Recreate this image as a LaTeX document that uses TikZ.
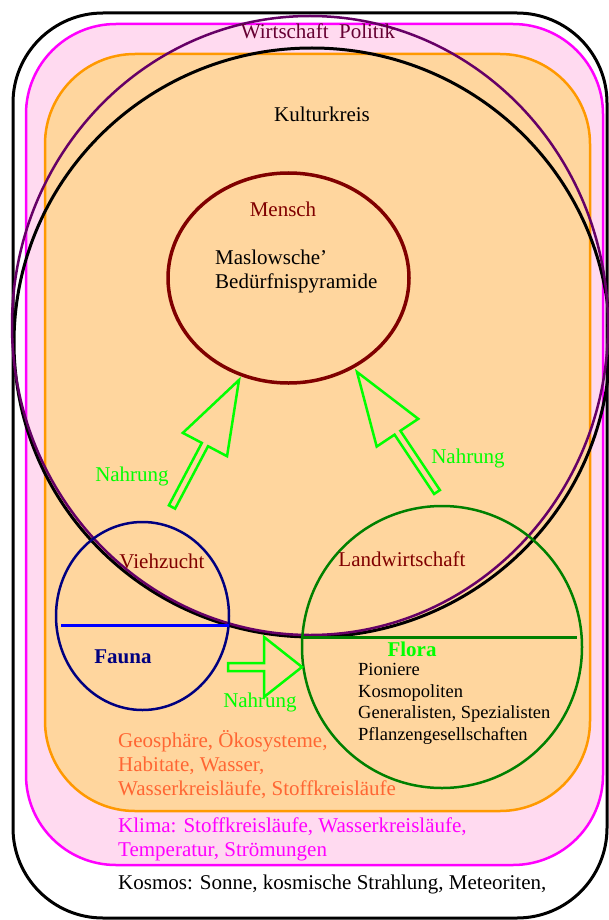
\documentclass[tikz,border=0pt]{standalone}
\usepackage{fontspec}
\setmainfont{Liberation Serif}
\usetikzlibrary{shapes.geometric, calc}

\definecolor{wipocol}{RGB}{102,0,51}
\definecolor{lila}{RGB}{102,0,102}
\definecolor{maroon}{RGB}{128,0,0}
\definecolor{navy}{RGB}{0,0,128}
\definecolor{gruen}{RGB}{0,128,0}
\definecolor{hellgruen}{RGB}{0,255,0}
\definecolor{orangetext}{RGB}{255,102,51}
\definecolor{orangeline}{RGB}{255,153,0}
\definecolor{orangefill}{RGB}{255,214,158}
\definecolor{pinkfill}{RGB}{255,218,240}
\definecolor{rosa}{RGB}{255,0,255}

\newcommand{\blockpfeil}[5]{%
  \coordinate (hb) at ($(#2)!#3!(#1)$);
  \draw[food] ($(#1)!#5!90:(#2)$) -- ($(hb)!#5!90:(#2)$) -- ($(hb)!#4!90:(#2)$) -- (#2)
    -- ($(hb)!#4!-90:(#2)$) -- ($(hb)!#5!-90:(#2)$) -- ($(#1)!#5!-90:(#2)$) -- cycle;}

\begin{document}
\begin{tikzpicture}[x=1pt,y=-1pt]
\tikzstyle{every node}=[inner sep=0pt, font=\fontsize{21}{24}\selectfont]
\tikzstyle{zone}=[rounded corners=90pt, line width=2.5pt]
\tikzstyle{ring}=[draw, ellipse, line width=2.5pt]
\tikzstyle{food}=[draw=hellgruen, line width=2.5pt, miter limit=20]
\tikzstyle{txt}=[anchor=base west, align=left]

\useasboundingbox (0,0) rectangle (608,920);
\draw[zone, line width=3pt] (13,13) rectangle (607,918);
\draw[zone, draw=rosa, fill=pinkfill] (26,24) rectangle (603,865);
\draw[zone, draw=orangeline, fill=orangefill] (45,54) rectangle (590,811);

\node[ring, line width=3pt, minimum width=596pt, minimum height=589pt] (kultur) at (312,342.5) {};
\node[ring, draw=lila, minimum width=596pt, minimum height=619pt] (politik) at (310,325.5) {};
\node[ring, draw=maroon, line width=3.5pt, minimum width=241pt, minimum height=210pt] (mensch) at (288.5,278) {};
\node[ring, draw=navy, minimum width=173pt, minimum height=188pt] (vieh) at (142.5,616) {};
\node[ring, draw=gruen, minimum width=280pt, minimum height=282pt] (land) at (442,647) {};

\draw[blue, line width=3pt] (61,625) -- (229,625);
\draw[gruen, line width=3pt] (302,637) -- (577,637);

\coordinate (t1) at (172,507);
\coordinate (p1) at (239,380);
\coordinate (t2) at (437,492);
\coordinate (p2) at (357,372);
\coordinate (t3) at (228,667);
\coordinate (p3) at (302,667);
\blockpfeil{t1}{p1}{73pt}{25pt}{3.5pt}
\blockpfeil{t2}{p2}{73pt}{25pt}{3.5pt}
\blockpfeil{t3}{p3}{38pt}{30pt}{4pt}

\node[anchor=base, text=wipocol] (wipotxt) at (318,39) {Wirtschaft\ \ Politik};
\node[anchor=base] (kulturtxt) at (322,121.5) {Kulturkreis};
\node[anchor=base, text=maroon] (menschtxt) at (283,216.5) {Mensch};
\node[txt] (maslow) at (215,288.5) {Maslowsche’\\Bedürfnispyramide};
\node[anchor=base, text=maroon] (viehtxt) at (162,568.5) {Viehzucht};
\node[anchor=base, text=navy, font=\fontsize{21}{24}\selectfont\bfseries] (fauna) at (123,663.5) {Fauna};
\node[anchor=base, text=maroon] (landtxt) at (402,566.5) {Landwirtschaft};
\node[anchor=base, text=hellgruen, font=\fontsize{21}{24}\selectfont\bfseries] (flora) at (412,656.5) {Flora};
\node[txt, font=\fontsize{18.5}{21.7}\selectfont] (arten) at (358,740.6) {Pioniere\\Kosmopoliten\\Generalisten, Spezialisten\\Pflanzengesellschaften};
\node[anchor=base, text=hellgruen] (nahrung1) at (132,481.5) {Nahrung};
\node[anchor=base, text=hellgruen] (nahrung2) at (468,463.5) {Nahrung};
\node[anchor=base, text=hellgruen] (nahrung3) at (260,707.5) {Nahrung};
\node[txt, text=orangetext] (geo) at (118,795.5) {Geosphäre, Ökosysteme,\\Habitate, Wasser,\\Wasserkreisläufe, Stoffkreisläufe};
\node[txt, text=rosa] (klima) at (118,856.5) {Klima: Stoffkreisläufe, Wasserkreisläufe,\\Temperatur, Strömungen};
\node[txt] (kosmos) at (118,889.5) {Kosmos: Sonne, kosmische Strahlung, Meteoriten,};
\end{tikzpicture}
\end{document}
